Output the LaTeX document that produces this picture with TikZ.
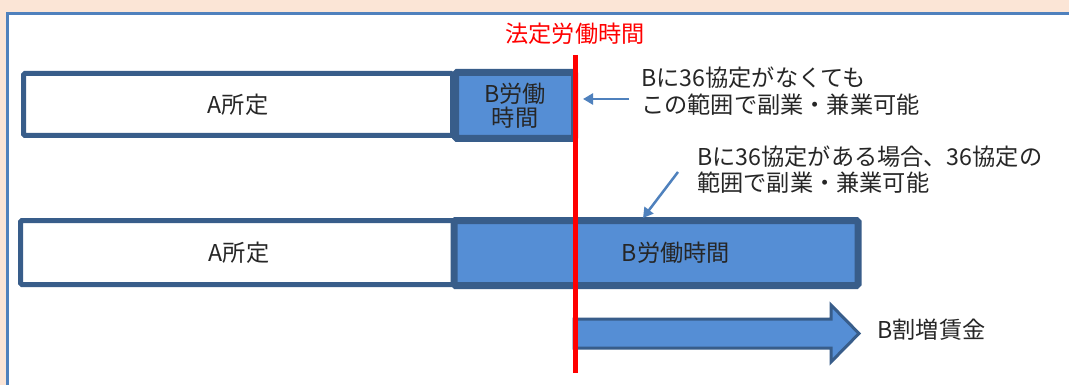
\documentclass[tikz,border=0pt]{standalone}
\usepackage{fontspec}
\setmainfont{Noto Sans CJK JP}
\usepackage{xcolor}
\usepackage{tikz}
\usetikzlibrary{arrows.meta,positioning}
\definecolor{peach}{RGB}{251,229,214}
\definecolor{frameblue}{RGB}{79,129,189}
\definecolor{boxedge}{RGB}{56,93,138}
\definecolor{boxfill}{RGB}{85,142,213}
\definecolor{textgray}{RGB}{38,38,38}

\begin{document}
\begin{tikzpicture}[x=1pt,y=-1pt,
font=\fontsize{23.2}{27}\selectfont,text=textgray,
abox/.style={draw=boxedge,line width=5pt,fill=white,rounded corners=1.5pt,inner sep=0pt},
bbox/.style={draw=boxedge,line width=7pt,fill=boxfill,rounded corners=1.5pt,inner sep=0pt,align=center},
note/.style={anchor=west,align=left,inner sep=0pt},
pointer/.style={-{Triangle[length=10pt,width=11pt]},draw=frameblue,line width=2.5pt},
wagearrow/.style={draw=boxedge,line width=3pt,fill=boxfill}]
\useasboundingbox (0,0) rectangle (1069,385);
\clip (0,0) rectangle (1069,385);
\fill[peach] (0,0) rectangle (1069,385);
\draw[frameblue,line width=3pt,fill=white] (7.5,13.5) rectangle (1090,400);
\node[abox,minimum width=429pt,minimum height=62pt] (a1) at (238,104.5) {A所定};
\node[bbox,minimum width=119pt,minimum height=66pt] (b1) at (515,105.5) {B労働\\[-3pt]時間};
\node[abox,minimum width=437pt,minimum height=64pt] (a2) at (239,252.5) {A所定};
\node[bbox,minimum width=404pt,minimum height=65pt,
label={[xshift=20pt,text=textgray]center:B労働時間}] (b2) at (656,253) {};
\draw[wagearrow] (574,319) -- (831,319) -- (831,305) -- (859,333.5) -- (831,362) -- (831,348) -- (574,348) -- cycle;
\node[anchor=west] (wage) at (874,330) {B割増賃金};
\coordinate (lawtop) at (575,55);
\coordinate (lawbot) at (575,373);
\draw[red,line width=5pt] (lawtop) -- (lawbot);
\node[text=red] (law) at (575,34) {法定労働時間};
\node[note] (n1) at (641,91) {Bに36協定がなくても\\この範囲で副業・兼業可能};
\node[note] (n2) at (697,170) {Bに36協定がある場合、36協定の\\[-1pt]範囲で副業・兼業可能};
\coordinate (p1) at (629,99);
\coordinate (p2) at (678,172);
\coordinate (p2e) at (643,218);
\draw[pointer,shorten >=5pt] (p1) -- (p1 -| b1.east);
\draw[pointer] (p2) -- (p2e);
\end{tikzpicture}
\end{document}
